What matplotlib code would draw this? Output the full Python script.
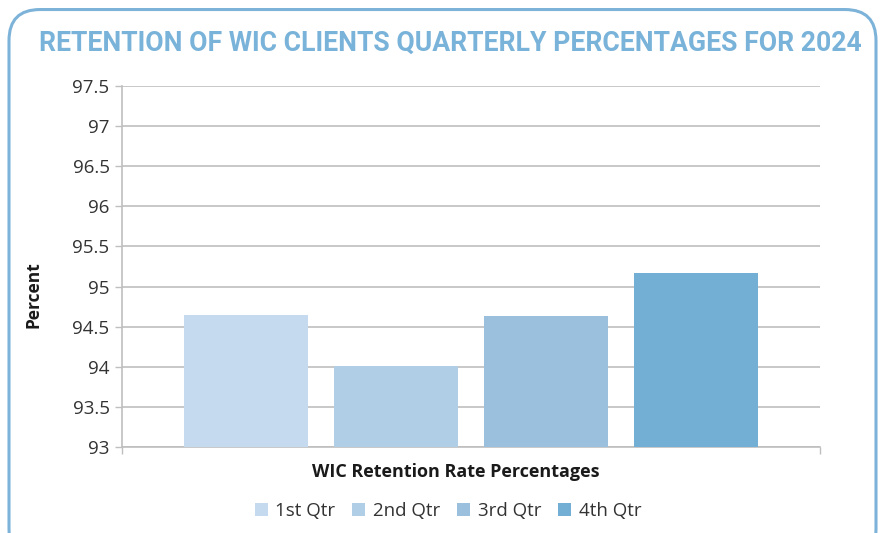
import matplotlib
matplotlib.use("Agg")
import matplotlib.pyplot as plt
from matplotlib.patches import FancyBboxPatch, Patch

quarters = ["1st Qtr", "2nd Qtr", "3rd Qtr", "4th Qtr"]
retention = [94.64, 94.01, 94.63, 95.17]
colors = ["#C5DAEE", "#B0CEE6", "#9BC0DE", "#73AED5"]
yticks = [93, 93.5, 94, 94.5, 95, 95.5, 96, 96.5, 97, 97.5]
ytick_labels = ["93", "93.5", "94", "94.5", "95", "95.5", "96", "96.5", "97", "97.5"]

plt.rcParams["font.family"] = ["Open Sans", "DejaVu Sans"]

W, H = 885, 533
fig = plt.figure(figsize=(W / 100, H / 100), dpi=100)

# rounded frame around the whole chart
frame = FancyBboxPatch((9 / W, -0.05), (W - 18) / W, (H - 9) / H + 0.05 - 0.001,
                       boxstyle="round,pad=0,rounding_size=0.035",
                       transform=fig.transFigure, fill=False,
                       edgecolor="#7DB3D9", linewidth=2.2, mutation_aspect=W / H)
fig.add_artist(frame)

fig.text(450 / W, 1 - 43 / H, "RETENTION OF WIC CLIENTS QUARTERLY PERCENTAGES FOR 2024",
         ha="center", va="center", fontsize=19.2, fontweight="bold",
         color="#7AB3D9", family=["Roboto", "DejaVu Sans"])

ax = fig.add_axes([122 / W, 1 - 447 / H, (820 - 122) / W, (447 - 86) / H])
x = range(len(quarters))
ax.bar(x, [v - 93 for v in retention], width=0.83, bottom=93, color=colors, zorder=3)

ax.set_ylim(93, 97.5)
ax.set_xlim(-0.827, 3.827)
ax.set_yticks(yticks)
ax.set_yticklabels(ytick_labels, fontsize=13.5, color="#333333")
ax.set_xticks([-0.827, 3.827])
ax.set_xticklabels([])
ax.tick_params(axis="y", length=5, color="#BFBFBF", width=1, pad=4)
ax.tick_params(axis="x", length=5, color="#BFBFBF", width=1)
ax.grid(True, axis="y", color="#BFBFBF", linewidth=1.2, zorder=0)
for side in ["top", "right"]:
    ax.spines[side].set_visible(False)
for side in ["left", "bottom"]:
    ax.spines[side].set_color("#BFBFBF")
    ax.spines[side].set_linewidth(1.2)

fig.text(33 / W, 1 - 295 / H, "Percent", rotation=90, ha="center", va="center",
         fontsize=12.5, fontweight="bold", color="#1a1a1a")
fig.text(456 / W, 1 - 472 / H, "WIC Retention Rate Percentages", ha="center", va="center",
         fontsize=13, fontweight="bold", color="#1a1a1a")

handles = [Patch(facecolor=c, edgecolor="none") for c in colors]
fig.legend(handles, quarters, loc="center", bbox_to_anchor=(448 / W, 1 - 511 / H),
           ncol=4, frameon=False, fontsize=13.5, handlelength=0.7, handleheight=0.7,
           handletextpad=0.4, columnspacing=0.9, labelcolor="#333333")

fig.savefig("out.png", dpi=100)
